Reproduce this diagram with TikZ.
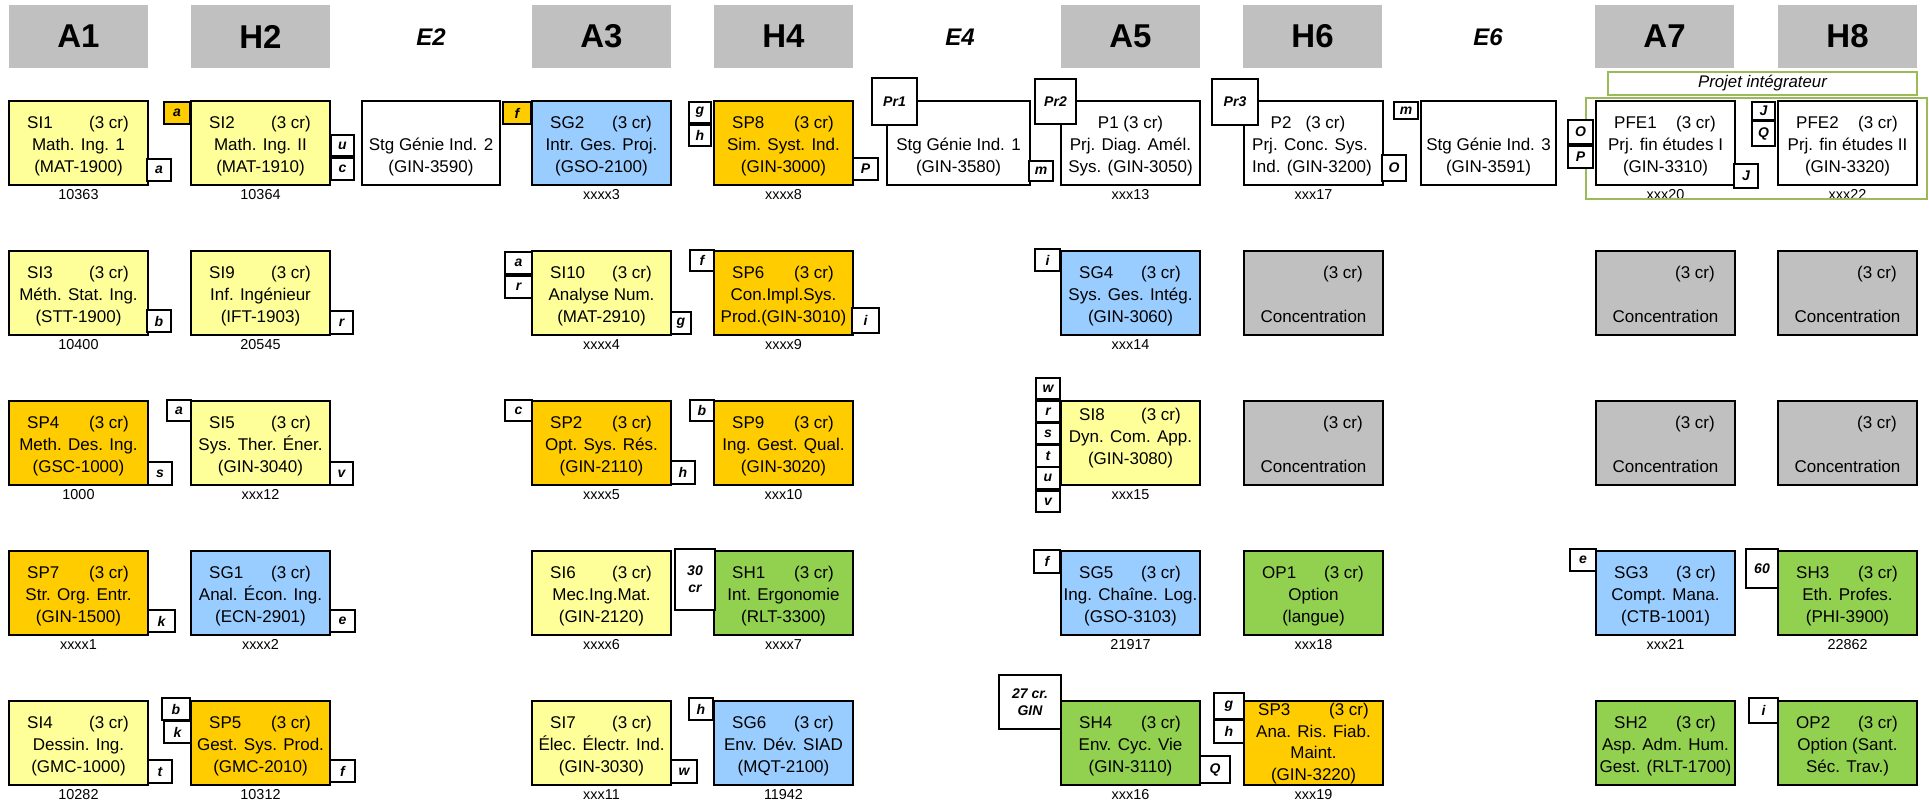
\documentclass[tikz,border=0pt]{standalone}
\usepackage{fontspec}
\setmainfont{Liberation Sans}
\definecolor{cyel}{HTML}{FFFF99}
\definecolor{corg}{HTML}{FFCC00}
\definecolor{cblu}{HTML}{99CCFF}
\definecolor{cgrn}{HTML}{92D050}
\definecolor{cgry}{HTML}{C0C0C0}
\definecolor{cfrm}{HTML}{9BBB59}
\tikzset{
  cbox/.style={draw=black, line width=1.8pt, minimum width=139pt, minimum height=84pt, inner sep=0pt, outer sep=0pt},
  ctxt/.style={inner sep=0pt, font=\fontsize{17}{21}\selectfont},
  lbl/.style={inner sep=0pt, font=\fontsize{14.4}{16}\selectfont},
  tagbox/.style={draw=black, fill=white, line width=1.1pt, inner sep=0pt, outer sep=0pt, align=center, font=\fontsize{14}{17}\selectfont\bfseries\itshape},
  hbox/.style={fill=cgry, minimum width=139pt, minimum height=63pt, inner sep=0pt, font=\fontsize{33}{36}\selectfont\bfseries},
  ehdr/.style={inner sep=0pt, font=\fontsize{24}{26}\selectfont\bfseries\itshape},
}
\newcommand\crs[9][0]{%
  \node[cbox,fill=#5] (#2) at (#3+69.5,#4+42) {};
  \node[ctxt,anchor=base west] (#2-a) at (#3+18,#4+27-#1) {#6};
  \node[ctxt,anchor=base east] (#2-b) at (#3+120,#4+27-#1) {(3 cr)};
  \node[ctxt,anchor=base] (#2-c) at (#3+69.5,#4+49-#1) {#7};
  \node[ctxt,anchor=base] (#2-d) at (#3+69.5,#4+71-#1) {#8};
  \node[lbl,anchor=base] (#2-e) at (#3+69.5,#4+98) {#9};
}
\newcommand\conc[3]{%
  \node[cbox,fill=cgry] (#1) at (#2+69.5,#3+42) {};
  \node[ctxt,anchor=base east] (#1-b) at (#2+119,#3+27) {(3 cr)};
  \node[ctxt,anchor=base] (#1-c) at (#2+69.5,#3+71) {Concentration};
}
\newcommand\stg[6]{%
  \node[cbox,fill=white,minimum width=#4pt] (#1) at (#2+#4/2,#3+42) {};
  \node[ctxt,anchor=base] (#1-c) at (#2+#4/2,#3+49) {#5};
  \node[ctxt,anchor=base] (#1-d) at (#2+#4/2,#3+71) {#6};
}
\newcommand\hdr[3]{\node[hbox] (#1) at (#2+69.5,36.5) {#3};}
\newcommand\tg[7][]{\node[tagbox,#1,minimum width={(#5-#3)*1pt},minimum height={(#6-#4)*1pt}] (#2) at ({(#3+#5)/2},{(#4+#6)/2}) {#7};}
\begin{document}
\begin{tikzpicture}[x=1pt,y=-1pt]
\useasboundingbox (0,0) rectangle (1929,803);
% headers
\hdr{hA1}{9}{A1}
\hdr{hH2}{191}{H2}
\node[ehdr] (hE2) at (431,37) {E2};
\hdr{hA3}{532}{A3}
\hdr{hH4}{714}{H4}
\node[ehdr] (hE4) at (960,37) {E4};
\hdr{hA5}{1061}{A5}
\hdr{hH6}{1243}{H6}
\node[ehdr] (hE6) at (1488,37) {E6};
\hdr{hA7}{1595}{A7}
\hdr{hH8}{1778}{H8}
% row 1
\crs{si1}{9}{101}{cyel}{SI1}{Math. Ing. 1}{(MAT-1900)}{10363}
\crs{si2}{191}{101}{cyel}{SI2}{Math. Ing. II}{(MAT-1910)}{10364}
\stg{st2}{362}{101}{138}{Stg Génie Ind. 2}{(GIN-3590)}
\crs{sg2}{532}{101}{cblu}{SG2}{Intr. Ges. Proj.}{(GSO-2100)}{xxxx3}
\crs{sp8}{714}{101}{corg}{SP8}{Sim. Syst. Ind.}{(GIN-3000)}{xxxx8}
\stg{st1}{887}{101}{143}{Stg Génie Ind. 1}{(GIN-3580)}
\node[cbox,fill=white] (p1) at (1130.5,143) {};
\node[ctxt,anchor=base] (p1-a) at (1130.5,128) {P1 (3 cr)};
\node[ctxt,anchor=base] (p1-c) at (1130.5,150) {Prj. Diag. Amél.};
\node[ctxt,anchor=base] (p1-d) at (1130.5,172) {Sys. (GIN-3050)};
\node[lbl,anchor=base] (p1-e) at (1130.5,199) {xxx13};
\node[cbox,fill=white] (p2) at (1313.5,143) {};
\node[ctxt,anchor=base] (p2-a) at (1308,128) {P2\ \ \ (3 cr)};
\node[ctxt,anchor=base] (p2-c) at (1310,150) {Prj. Conc. Sys.};
\node[ctxt,anchor=base] (p2-d) at (1312,172) {Ind. (GIN-3200)};
\node[lbl,anchor=base] (p2-e) at (1313.5,199) {xxx17};
\stg{st3}{1421}{101}{135}{Stg Génie Ind. 3}{(GIN-3591)}
\crs{pfe1}{1596}{101}{white}{PFE1}{Prj. fin études I}{(GIN-3310)}{xxx20}
\crs{pfe2}{1778}{101}{white}{PFE2}{Prj. fin études II}{(GIN-3320)}{xxx22}
% row 2
\crs{si3}{9}{251}{cyel}{SI3}{Méth. Stat. Ing.}{(STT-1900)}{10400}
\crs{si9}{191}{251}{cyel}{SI9}{Inf. Ingénieur}{(IFT-1903)}{20545}
\crs{si10}{532}{251}{cyel}{SI10}{Analyse Num.}{(MAT-2910)}{xxxx4}
\crs{sp6}{714}{251}{corg}{SP6}{Con.Impl.Sys.}{Prod.(GIN-3010)}{xxxx9}
\crs{sg4}{1061}{251}{cblu}{SG4}{Sys. Ges. Intég.}{(GIN-3060)}{xxx14}
\conc{cc1}{1244}{251}
\conc{cc2}{1596}{251}
\conc{cc3}{1778}{251}
% row 3
\crs{sp4}{9}{401}{corg}{SP4}{Meth. Des. Ing.}{(GSC-1000)}{1000}
\crs{si5}{191}{401}{cyel}{SI5}{Sys. Ther. Éner.}{(GIN-3040)}{xxx12}
\crs{sp2}{532}{401}{corg}{SP2}{Opt. Sys. Rés.}{(GIN-2110)}{xxxx5}
\crs{sp9}{714}{401}{corg}{SP9}{Ing. Gest. Qual.}{(GIN-3020)}{xxx10}
\crs[8]{si8}{1061}{401}{cyel}{SI8}{Dyn. Com. App.}{(GIN-3080)}{xxx15}
\conc{cc4}{1244}{401}
\conc{cc5}{1596}{401}
\conc{cc6}{1778}{401}
% row 4
\crs{sp7}{9}{551}{corg}{SP7}{Str. Org. Entr.}{(GIN-1500)}{xxxx1}
\crs{sg1}{191}{551}{cblu}{SG1}{Anal. Écon. Ing.}{(ECN-2901)}{xxxx2}
\crs{si6}{532}{551}{cyel}{SI6}{Mec.Ing.Mat.}{(GIN-2120)}{xxxx6}
\crs{sh1}{714}{551}{cgrn}{SH1}{Int. Ergonomie}{(RLT-3300)}{xxxx7}
\crs{sg5}{1061}{551}{cblu}{SG5}{Ing. Chaîne. Log.}{(GSO-3103)}{21917}
\crs{op1}{1244}{551}{cgrn}{OP1}{Option}{(langue)}{xxx18}
\crs{sg3}{1596}{551}{cblu}{SG3}{Compt. Mana.}{(CTB-1001)}{xxx21}
\crs{sh3}{1778}{551}{cgrn}{SH3}{Eth. Profes.}{(PHI-3900)}{22862}
% row 5
\crs{si4}{9}{701}{cyel}{SI4}{Dessin. Ing.}{(GMC-1000)}{10282}
\crs{sp5}{191}{701}{corg}{SP5}{Gest. Sys. Prod.}{(GMC-2010)}{10312}
\crs{si7}{532}{701}{cyel}{SI7}{Élec. Électr. Ind.}{(GIN-3030)}{xxx11}
\crs{sg6}{714}{701}{cblu}{SG6}{Env. Dév. SIAD}{(MQT-2100)}{11942}
\crs{sh4}{1061}{701}{cgrn}{SH4}{Env. Cyc. Vie}{(GIN-3110)}{xxx16}
\node[cbox,fill=corg] (sp3) at (1313.5,743) {};
\node[ctxt,anchor=base west] (sp3-a) at (1258,715) {SP3};
\node[ctxt,anchor=base east] (sp3-b) at (1369,715) {(3 cr)};
\node[ctxt,anchor=base] (sp3-c) at (1313.5,737) {Ana. Ris. Fiab.};
\node[ctxt,anchor=base] (sp3-d) at (1313.5,758) {Maint.};
\node[ctxt,anchor=base] (sp3-f) at (1313.5,780) {(GIN-3220)};
\node[lbl,anchor=base] (sp3-e) at (1313.5,799) {xxx19};
\crs{sh2}{1596}{701}{cgrn}{SH2}{Asp. Adm. Hum.}{Gest. (RLT-1700)}{}
\crs{op2}{1778}{701}{cgrn}{OP2}{Option (Sant.}{Séc. Trav.)}{}
% projet integrateur
\node[draw=cfrm, line width=2pt, fill=white, minimum width=309pt, minimum height=23pt, inner sep=0pt, font=\fontsize{16.8}{18}\selectfont\itshape] (pint) at (1762.5,83.5) {Projet intégrateur};
\node[draw=cfrm, line width=2.6pt, minimum width=341pt, minimum height=101pt, inner sep=0pt] (pframe) at (1756.5,148.5) {};
% tags row 1
\tg{ta1}{147}{159}{171}{181}{a}
\tg[fill=corg]{ta2}{164}{102}{190}{124}{a}
\tg{tu1}{331}{135}{354}{156}{u}
\tg{tc1}{331}{158}{354}{180}{c}
\tg[fill=corg]{tf1}{503}{102}{531}{124}{f}
\tg{tg1}{689}{102}{711}{123}{g}
\tg{th1}{689}{125}{711}{146}{h}
\tg{tP1}{853}{158}{878}{180}{P}
\tg{tpr1}{872}{78}{917}{125}{Pr1}
\tg{tm1}{1029}{161}{1053}{181}{m}
\tg{tpr2}{1035}{79}{1076}{124}{Pr2}
\tg{tpr3}{1212}{79}{1258}{125}{Pr3}
\tg{tO1}{1382}{155}{1406}{181}{O}
\tg{tm2}{1394}{102}{1418}{119}{m}
\tg{tO2}{1568}{120}{1593}{144}{O}
\tg{tP2}{1568}{146}{1593}{168}{P}
\tg{tJ1}{1734}{164}{1758}{188}{J}
\tg{tJ2}{1752}{102}{1775}{120}{J}
\tg{tQ1}{1752}{121}{1775}{146}{Q}
% tags row 2
\tg{tb2}{147}{310}{171}{332}{b}
\tg{tr2}{330}{311}{353}{334}{r}
\tg{ta3}{505}{252}{532}{274}{a}
\tg{tr3}{505}{276}{532}{298}{r}
\tg{tg2}{671}{312}{691}{334}{g}
\tg{tf2}{690}{250}{714}{271}{f}
\tg{ti1}{852}{308}{879}{333}{i}
\tg{ti2}{1035}{249}{1060}{271}{i}
% tags row 3
\tg{ts1}{148}{462}{172}{485}{s}
\tg{ta4}{167}{400}{191}{421}{a}
\tg{tv1}{330}{462}{353}{485}{v}
\tg{tc2}{505}{400}{532}{421}{c}
\tg{th2}{671}{461}{695}{484}{h}
\tg{tb3}{690}{400}{714}{421}{b}
\tg{tw1}{1036}{378}{1060}{399}{w}
\tg{tr4}{1036}{401}{1060}{422}{r}
\tg{ts2}{1036}{423}{1060}{444}{s}
\tg{tt1}{1036}{445}{1060}{467}{t}
\tg{tu2}{1036}{467}{1060}{489}{u}
\tg{tv2}{1036}{491}{1060}{512}{v}
% tags row 4
\tg{tk1}{148}{610}{175}{632}{k}
\tg{te1}{330}{610}{355}{632}{e}
\tg{t30}{675}{549}{715}{610}{30\\cr}
\tg{tf3}{1034}{550}{1060}{573}{f}
\tg{te2}{1570}{549}{1596}{571}{e}
\tg{t60}{1746}{549}{1778}{588}{60}
% tags row 5
\tg{tt2}{148}{760}{172}{783}{t}
\tg{tb4}{162}{698}{190}{720}{b}
\tg{tk2}{164}{721}{191}{743}{k}
\tg{tf4}{330}{760}{355}{782}{f}
\tg{tw2}{671}{760}{697}{783}{w}
\tg{th3}{689}{698}{713}{720}{h}
\tg{t27}{999}{675}{1061}{729}{27 cr.\\GIN}
\tg{tQ2}{1200}{756}{1230}{783}{Q}
\tg{tg3}{1214}{693}{1244}{719}{g}
\tg{th4}{1214}{720}{1244}{743}{h}
\tg{ti3}{1749}{698}{1778}{723}{i}
\end{tikzpicture}
\end{document}
